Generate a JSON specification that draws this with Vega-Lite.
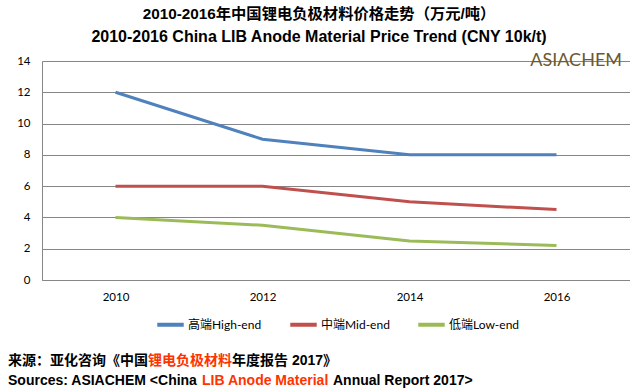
{
  "$schema": "https://vega.github.io/schema/vega-lite/v6.json",
  "background": "white",
  "padding": {"left": 8, "top": 7, "right": 0, "bottom": 0},
  "title": {
    "text": "2010-2016年中国锂电负极材料价格走势（万元/吨）",
    "subtitle": "2010-2016 China LIB Anode Material Price Trend (CNY 10k/t)",
    "font": "Liberation Sans, Noto Sans CJK SC",
    "fontSize": 15.3,
    "fontWeight": "bold",
    "color": "#000000",
    "subtitleFont": "Liberation Sans",
    "subtitleFontSize": 16,
    "subtitleFontWeight": "bold",
    "subtitleColor": "#000000",
    "subtitlePadding": 6,
    "anchor": "middle",
    "offset": 7
  },
  "spacing": 0,
  "resolve": {"legend": {"color": "independent"}},
  "vconcat": [
    {
      "width": 588,
      "height": 219,
      "title": {"text": "ASIACHEM", "anchor": "end", "orient": "top", "offset": -14.5, "dx": -8, "font": "Lato", "fontSize": 18, "fontWeight": "normal", "color": "#6B5A2E"},
      "data": {"values": [
        {"year": "2010", "grade": "高端High-end", "price": 12},
        {"year": "2012", "grade": "高端High-end", "price": 9},
        {"year": "2014", "grade": "高端High-end", "price": 8},
        {"year": "2016", "grade": "高端High-end", "price": 8},
        {"year": "2010", "grade": "中端Mid-end", "price": 6},
        {"year": "2012", "grade": "中端Mid-end", "price": 6},
        {"year": "2014", "grade": "中端Mid-end", "price": 5},
        {"year": "2016", "grade": "中端Mid-end", "price": 4.5},
        {"year": "2010", "grade": "低端Low-end", "price": 4},
        {"year": "2012", "grade": "低端Low-end", "price": 3.5},
        {"year": "2014", "grade": "低端Low-end", "price": 2.5},
        {"year": "2016", "grade": "低端Low-end", "price": 2.2}
      ]},
      "mark": {"type": "line", "strokeWidth": 3},
      "encoding": {
        "x": {"field": "year", "type": "ordinal", "scale": {"type": "point", "padding": 0.5},
          "axis": {"title": null, "labelAngle": 0, "ticks": false, "grid": false, "domainColor": "#868686", "labelPadding": 11, "labelFont": "Lato", "labelFontSize": 11.5, "labelColor": "#000000"}},
        "y": {"field": "price", "type": "quantitative", "scale": {"domain": [0, 14], "nice": false},
          "axis": {"title": null, "values": [0, 2, 4, 6, 8, 10, 12, 14], "ticks": false, "grid": true, "gridColor": "#868686", "gridOpacity": 1, "domainColor": "#868686", "labelPadding": 12, "labelFont": "Lato", "labelFontSize": 11.5, "labelColor": "#000000", "minExtent": 34}},
        "color": {"field": "grade", "type": "nominal",
          "scale": {"domain": ["高端High-end", "中端Mid-end", "低端Low-end"], "range": ["#4F81BD", "#C0504D", "#9BBB59"]},
          "legend": {"orient": "none", "legendX": 113, "legendY": 248, "direction": "horizontal", "title": null, "symbolType": "stroke", "symbolStrokeWidth": 4, "symbolSize": 700, "labelFont": "Lato, Noto Sans CJK SC", "labelFontSize": 12, "labelColor": "#000000", "columnPadding": 20, "labelOffset": 2}}
      }
    },
    {
      "spacing": 2,
      "vconcat": [
        {
          "spacing": 0,
          "hconcat": [
            {"width": 1, "height": 1, "data": {"values": [{}]}, "mark": {"type": "text", "text": ""},
              "title": {"text": "来源：亚化咨询《中国", "anchor": "start", "orient": "bottom", "offset": 9, "dx": -34, "font": "Liberation Sans, Noto Sans CJK SC", "fontSize": 14, "fontWeight": "bold", "color": "#000000"}},
            {"width": 1, "height": 1, "data": {"values": [{}]}, "mark": {"type": "text", "text": ""},
              "title": {"text": "锂电负极材料", "anchor": "start", "orient": "bottom", "offset": 9, "dx": -34, "font": "Liberation Sans, Noto Sans CJK SC", "fontSize": 14, "fontWeight": "bold", "color": "#FF3300"}},
            {"width": 1, "height": 1, "data": {"values": [{}]}, "mark": {"type": "text", "text": ""},
              "title": {"text": "年度报告 2017》", "anchor": "start", "orient": "bottom", "offset": 9, "dx": -34, "font": "Liberation Sans, Noto Sans CJK SC", "fontSize": 14, "fontWeight": "bold", "color": "#000000"}}
          ]
        },
        {
          "spacing": 4,
          "hconcat": [
            {"width": 1, "height": 1, "data": {"values": [{}]}, "mark": {"type": "text", "text": ""},
              "title": {"text": "Sources: ASIACHEM <China", "anchor": "start", "orient": "bottom", "offset": -8, "dx": -34, "font": "Liberation Sans", "fontSize": 14, "fontWeight": "bold", "color": "#000000"}},
            {"width": 1, "height": 1, "data": {"values": [{}]}, "mark": {"type": "text", "text": ""},
              "title": {"text": "LIB Anode Material", "anchor": "start", "orient": "bottom", "offset": -8, "dx": -34, "font": "Liberation Sans", "fontSize": 14, "fontWeight": "bold", "color": "#FF3300"}},
            {"width": 1, "height": 1, "data": {"values": [{}]}, "mark": {"type": "text", "text": ""},
              "title": {"text": "Annual Report 2017>", "anchor": "start", "orient": "bottom", "offset": -8, "dx": -34, "font": "Liberation Sans", "fontSize": 14, "fontWeight": "bold", "color": "#000000"}}
          ]
        }
      ]
    }
  ],
  "config": {
    "view": {"stroke": null}
  }
}
